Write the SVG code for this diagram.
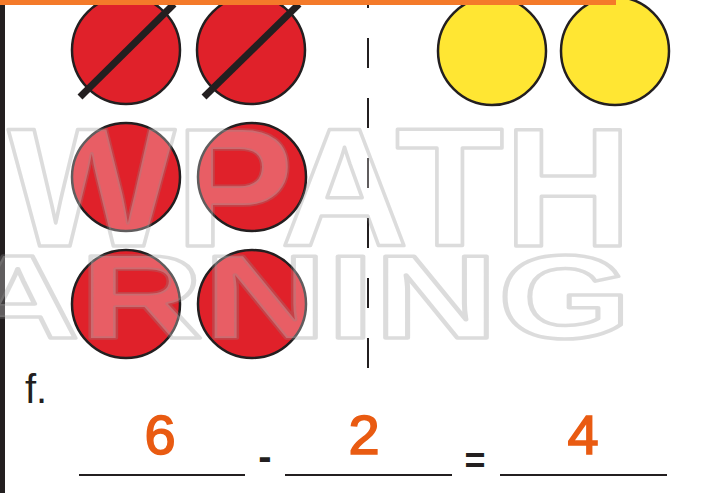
<svg xmlns="http://www.w3.org/2000/svg" width="702" height="493" viewBox="0 0 702 493">
<style>
.red{fill:#e0212a;stroke:#231f20;stroke-width:2.5}
.yel{fill:#ffe633;stroke:#231f20;stroke-width:2.5}
.slash{stroke:#231f20;stroke-width:7}
.wm{font-family:"Liberation Sans",Arial,sans-serif;font-weight:bold;fill:#ffffff;fill-opacity:0.28;stroke:#8c8c8c;stroke-opacity:0.3;stroke-width:3.5;stroke-linejoin:round}
.num{font-family:"Liberation Sans",Arial,sans-serif;font-size:56px;fill:#e95b12;stroke:#e95b12;stroke-width:1.6;text-anchor:middle}
.blank{stroke:#231f20;stroke-width:2}
.op{font-family:"Liberation Sans",Arial,sans-serif;font-weight:bold;fill:#231f20;text-anchor:middle}
</style>
<rect x="0" y="0" width="702" height="493" fill="#ffffff"/>
<rect x="0" y="0" width="5" height="493" fill="#231f20"/>
<g id="red-1"><circle class="red" cx="126" cy="50" r="54"/><line class="slash" x1="80" y1="97" x2="174" y2="4"/></g>
<g id="red-2"><circle class="red" cx="251" cy="50" r="54"/><line class="slash" x1="204" y1="97" x2="299" y2="4"/></g>
<g id="red-3"><circle class="red" cx="126" cy="177" r="54"/></g>
<g id="red-4"><circle class="red" cx="252" cy="177" r="54"/></g>
<g id="red-5"><circle class="red" cx="126" cy="304" r="54"/></g>
<g id="red-6"><circle class="red" cx="252" cy="304" r="54"/></g>
<g id="yellow-1"><circle class="yel" cx="492" cy="51" r="54"/></g>
<g id="yellow-2"><circle class="yel" cx="615" cy="51" r="54"/></g>
<g id="divider"><line x1="368" y1="0" x2="368" y2="370" stroke="#231f20" stroke-width="2" stroke-dasharray="30 30" stroke-dashoffset="22"/></g>
<rect x="0" y="0" width="616" height="5" fill="#f47a2a"/>
<g id="watermark">
<text class="wm" x="8" y="246" font-size="168" textLength="624" lengthAdjust="spacingAndGlyphs">WPATH</text>
<text class="wm" x="-44" y="338" font-size="118" textLength="675" lengthAdjust="spacingAndGlyphs">ARNING</text>
</g>
<g id="equation">
<text x="25" y="403" font-family="Liberation Sans,Arial,sans-serif" font-size="40" fill="#231f20">f.</text>
<line class="blank" x1="79" y1="475" x2="245" y2="475"/>
<line class="blank" x1="285" y1="475" x2="452" y2="475"/>
<line class="blank" x1="500" y1="475" x2="667" y2="475"/>
<text class="num" x="160" y="454">6</text>
<text class="num" x="364" y="454">2</text>
<text class="num" x="583" y="454">4</text>
<text class="op" x="265" y="470" font-size="40">-</text>
<text class="op" x="475" y="473" font-size="36">=</text>
</g>
</svg>
